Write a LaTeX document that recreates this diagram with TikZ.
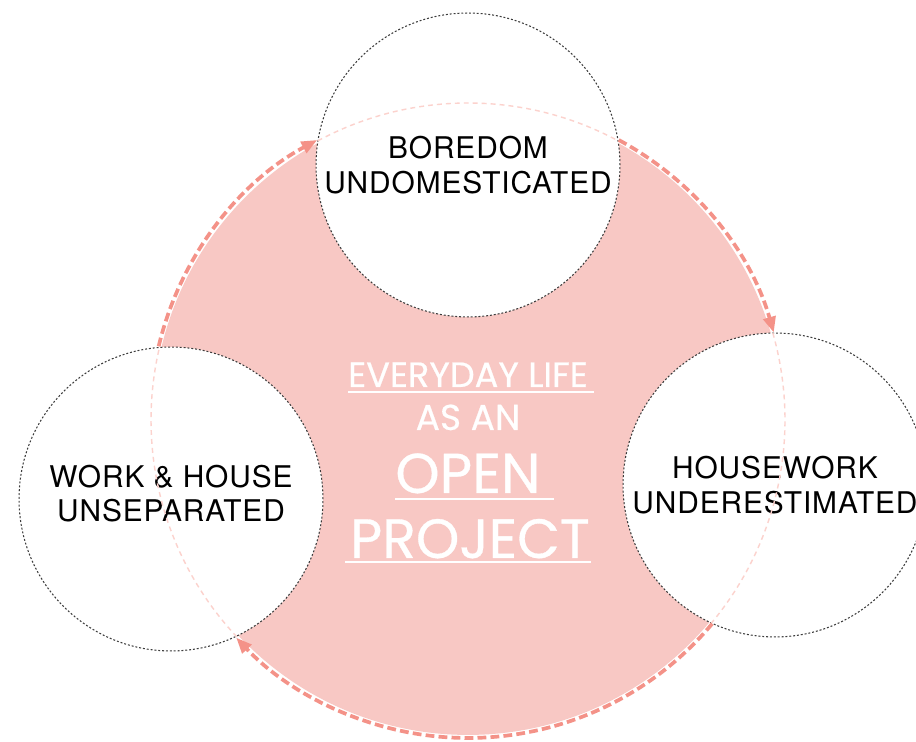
\documentclass[tikz,border=0pt]{standalone}
\usepackage{fontspec}
\setmainfont{TeX Gyre Heros}[LetterSpace=3]
\newfontfamily\lifefont{Poppins}[FakeBold=0.6]
\usetikzlibrary{arrows.meta, calc}
\definecolor{lifepink}{RGB}{248,200,196}
\definecolor{loopred}{RGB}{244,146,136}
\definecolor{ghostpink}{RGB}{252,210,205}
\definecolor{rimgray}{RGB}{60,60,60}

\begin{document}
\begin{tikzpicture}[x=0.02cm, y=0.02cm, >={Triangle[length=9pt, width=7pt]}]
    \tikzstyle{hub} = [circle, fill=lifepink, minimum size=12.6cm, inner sep=0pt]
    \tikzstyle{bubble} = [circle, fill=white, draw=rimgray, line width=0.6pt, dash pattern=on 1.1pt off 1.1pt, minimum size=6.08cm, inner sep=0pt, align=center, font=\fontsize{17}{19.5}\selectfont]
    \tikzstyle{loop} = [loopred, line width=2.1pt, dash pattern=on 5pt off 2.4pt, ->]
    \tikzstyle{ghost} = [ghostpink, line width=0.8pt, dash pattern=on 2.8pt off 2.3pt]
    \tikzstyle{lifetext} = [white, inner sep=0pt, anchor=base]
    \tikzstyle{lifeline} = [white, line width=1.1pt]

    \fill[white] (0,0) rectangle (916,742);
    \useasboundingbox (0,0) rectangle (916,742);

    % Cerchio centrale
    \node[hub] (life) at (468,322) {};

    % Cerchi dei temi
    \node[bubble] (boredom) at (468,577) {BOREDOM\\UNDOMESTICATED};
    \node[bubble] (work) at (171,243) {WORK \& HOUSE\\UNSEPARATED\\[-13pt]};
    \node[bubble] (housework) at (775,257) {HOUSEWORK\\UNDERESTIMATED};

    % Tratti chiari dentro i cerchi
    \draw[ghost] ($(life)+(118.3:317)$) arc[start angle=118.3, end angle=61.7, radius=317];
    \draw[ghost] ($(life)+(15.95:317)$) arc[start angle=15.95, end angle=-39.85, radius=317];
    \draw[ghost] ($(life)+(223.2:317)$) arc[start angle=223.2, end angle=166.6, radius=317];

    % Frecce del ciclo
    \draw[loop] ($(life)+(166.6:318)$) arc[start angle=166.6, end angle=118.3, radius=318];
    \draw[loop] ($(life)+(61.7:318)$) arc[start angle=61.7, end angle=15.95, radius=318];
    \draw[loop] ($(life)+(-39.85:318)$) arc[start angle=-39.85, end angle=-136.8, radius=318];

    % Testo centrale
    \node[lifetext, font=\lifefont\fontsize{20}{22}\selectfont] (everyday) at (468,355) {EVERYDAY LIFE};
    \node[lifetext, font=\lifefont\fontsize{20.5}{22}\selectfont] (asan) at (468,312) {AS AN};
    \node[lifetext, font=\lifefont\fontsize{32}{36}\selectfont] (open) at (468,249) {OPEN};
    \node[lifetext, font=\lifefont\fontsize{31.5}{36}\selectfont] (project) at (470,184) {PROJECT};
    \draw[lifeline] ($(everyday.base west)+(0,-5)$) -- ($(everyday.base east)+(6,-5)$);
    \draw[lifeline] ($(open.base west)+(0,-6)$) -- ($(open.base east)+(13,-6)$);
    \draw[lifeline] ($(project.base west)+(-5,-4)$) -- ($(project.base east)+(1,-4)$);
\end{tikzpicture}
\end{document}
